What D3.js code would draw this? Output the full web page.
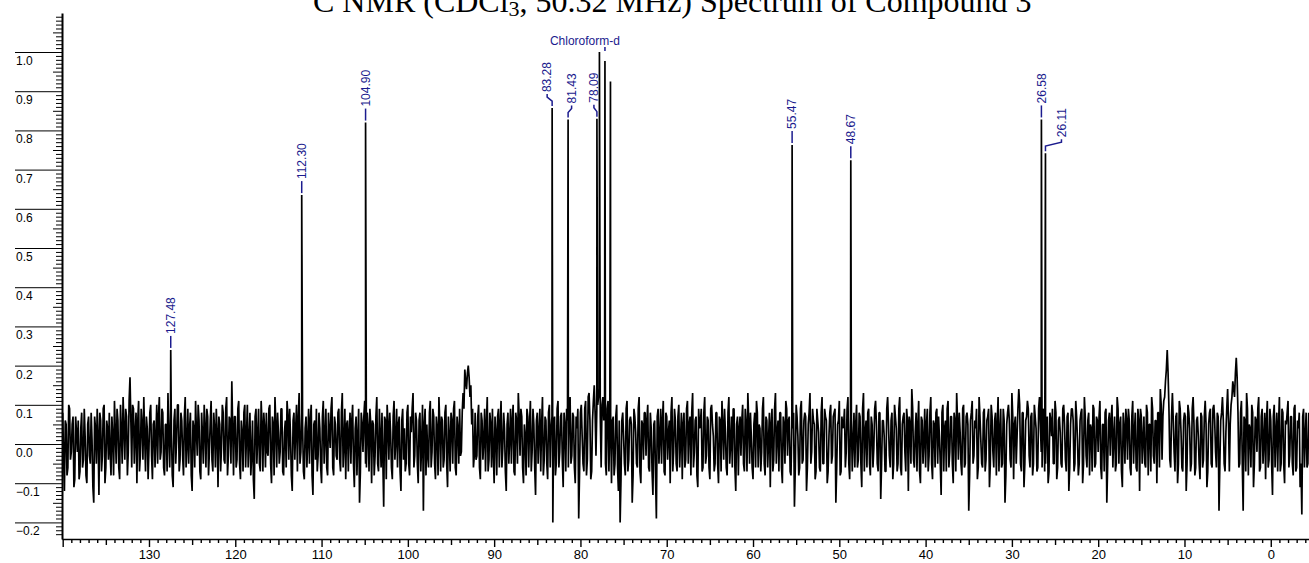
<!DOCTYPE html>
<html>
<head>
<meta charset="utf-8">
<script src="https://cdn.jsdelivr.net/npm/d3@7"></script>
<style>
body { margin: 0; background: #fff; overflow: hidden; }
</style>
</head>
<body>
<div id="chart"></div>
<script>
// data
var peakShifts  = [127.48, 112.30, 104.90, 83.28, 81.43, 78.09, 77.80, 77.16, 76.52, 55.47, 48.67, 26.58, 26.11];
var peakHeights = [0.240, 0.635, 0.820, 0.857, 0.828, 0.830, 1.000, 0.977, 0.925, 0.763, 0.724, 0.828, 0.742];
var peakLabels  = ['127.48', '112.30', '104.90', '83.28', '81.43', '78.09', '', '', '', '55.47', '48.67', '26.58', '26.11'];
var solventLabel = 'Chloroform-d';
var solventShift = 77.16;

// baseline noise, every 0.2 ppm from 140.0 ppm towards 0
var noiseStart = 140.0;
var noiseStep = 0.2;
var noise = [
 0.08,-0.12,0.05,-0.06,0.09,-0.02,0.07,-0.09,0.03,0.06,-0.07,0.08,-0.04,0.02,-0.10,0.07,-0.05,0.01,-0.15,0.04,
 0.09,-0.13,0.06,-0.03,0.10,-0.06,0.04,0.08,-0.08,0.02,0.11,-0.05,0.06,-0.09,0.03,0.12,-0.04,0.07,-0.02,0.17,
 -0.06,0.09,0.03,-0.10,0.11,-0.03,0.05,0.12,-0.07,0.04,-0.01,0.10,-0.09,0.06,0.02,-0.05,0.12,-0.02,0.08,-0.08,
 0.05,0.13,-0.06,0.03,-0.11,0.09,0.01,0.10,-0.04,0.06,-0.08,0.12,0.00,-0.05,0.08,-0.12,0.04,0.11,-0.03,0.06,
 -0.09,0.02,0.10,-0.06,0.07,-0.02,0.11,-0.07,0.04,0.09,-0.11,0.05,-0.01,0.08,-0.05,0.12,-0.03,0.06,0.16,-0.08,
 0.07,-0.04,0.11,-0.09,0.03,0.08,-0.06,0.10,0.01,-0.08,0.06,-0.14,0.09,0.02,-0.05,0.11,-0.07,0.04,0.08,-0.03,
 0.10,-0.10,0.05,0.12,-0.06,0.03,-0.02,0.09,-0.08,0.06,0.11,-0.04,0.02,-0.12,0.08,0.04,-0.07,0.13,-0.02,0.05,
 -0.09,0.07,0.01,-0.05,0.10,-0.13,0.06,0.09,-0.03,0.04,-0.10,0.11,0.02,-0.06,0.08,-0.01,0.12,-0.08,0.05,-0.04,
 0.09,-0.07,0.13,0.00,-0.09,0.06,0.03,-0.05,0.10,-0.11,0.07,0.02,-0.15,0.08,-0.02,0.11,-0.06,0.04,0.09,-0.10,
 0.05,-0.03,0.12,-0.07,0.02,0.08,-0.16,0.06,0.10,-0.04,0.03,-0.09,0.11,0.01,-0.06,0.07,-0.12,0.09,0.04,-0.05,
 0.10,-0.08,0.03,0.13,-0.03,0.06,-0.10,0.08,0.00,-0.17,0.09,0.05,-0.06,0.11,-0.02,0.07,-0.09,0.04,0.12,-0.07,
 0.06,-0.04,0.10,-0.11,0.02,0.08,-0.05,0.11,-0.08,0.04,0.09,-0.02,0.13,0.19,0.14,0.20,0.12,0.05,-0.06,0.08,
 -0.03,0.10,-0.09,0.06,0.01,-0.07,0.12,-0.04,0.05,0.09,-0.10,0.03,0.07,-0.06,0.11,-0.01,0.04,-0.12,0.08,0.02,
 -0.05,0.10,-0.08,0.06,0.13,-0.03,0.07,-0.10,0.02,0.09,-0.06,0.11,-0.02,0.05,-0.13,0.08,0.03,-0.07,0.12,-0.04,
 0.06,-0.09,0.10,0.04,-0.20,0.07,-0.05,0.11,-0.02,0.08,-0.11,0.05,0.09,-0.06,0.12,-0.03,0.07,-0.10,0.04,-0.19,
 0.08,0.02,-0.07,0.11,-0.04,0.13,-0.09,0.06,0.15,-0.03,0.10,0.14,-0.06,0.12,0.09,-0.08,0.11,0.05,-0.10,0.07,
 -0.05,0.10,-0.12,-0.20,0.06,0.02,-0.08,0.11,-0.04,0.07,-0.15,0.09,0.03,-0.06,0.12,-0.10,0.05,0.08,-0.03,0.10,
 -0.07,0.04,-0.13,0.06,-0.19,0.09,0.02,-0.05,0.11,-0.08,0.07,0.03,-0.10,0.12,-0.02,0.06,-0.07,0.10,0.01,-0.09,
 0.08,-0.04,0.11,0.05,-0.08,0.13,-0.02,0.07,-0.11,0.04,0.09,-0.06,0.12,-0.03,0.06,-0.09,0.10,0.02,-0.05,0.08,
 -0.10,0.06,0.11,-0.04,0.03,-0.08,0.12,0.00,-0.06,0.09,-0.12,0.07,0.04,-0.03,0.10,-0.07,0.05,0.13,-0.05,0.02,
 -0.09,0.08,0.11,-0.06,0.04,-0.02,0.12,-0.08,0.06,0.01,-0.11,0.09,-0.04,0.13,0.03,-0.07,0.08,-0.10,0.05,0.11,
 -0.03,0.07,-0.08,0.04,-0.16,0.10,0.02,-0.06,0.11,-0.04,0.08,-0.12,0.05,0.13,-0.02,0.06,-0.09,0.09,0.03,-0.07,
 0.12,-0.05,0.07,-0.10,0.02,0.10,-0.03,0.08,-0.15,0.05,0.11,-0.07,0.04,0.09,-0.02,0.12,-0.09,0.06,0.01,-0.06,
 0.10,-0.04,0.07,-0.11,0.13,0.03,-0.06,0.09,-0.08,0.05,-0.01,0.11,-0.05,0.08,-0.14,0.06,0.02,-0.07,0.12,-0.03,
 0.06,-0.09,0.10,0.04,-0.05,0.12,-0.08,0.07,-0.02,0.09,-0.12,0.05,0.14,-0.04,0.03,-0.07,0.11,-0.10,0.06,0.01,
 -0.06,0.09,-0.03,0.12,-0.09,0.05,0.08,-0.05,0.02,-0.13,0.10,0.04,-0.07,0.11,-0.02,0.07,-0.10,0.06,0.13,-0.04,
 0.03,-0.08,0.10,-0.05,0.08,-0.17,0.06,0.11,-0.03,0.04,-0.09,0.12,0.01,-0.06,0.09,-0.04,0.07,-0.11,0.10,-0.02,
 0.06,-0.08,0.12,0.03,-0.06,0.09,-0.15,0.05,0.10,-0.04,0.13,-0.09,0.07,0.02,0.14,-0.05,0.08,-0.11,0.06,0.11,
 -0.03,0.07,-0.08,0.10,0.04,-0.06,0.12,-0.02,0.09,-0.07,0.05,-0.10,0.08,0.02,-0.05,0.11,-0.09,0.06,0.03,-0.06,
 0.10,-0.04,0.07,-0.12,0.05,0.09,-0.07,0.11,0.01,-0.05,0.08,-0.10,0.12,-0.03,0.06,-0.08,0.04,0.10,-0.06,0.07,
 -0.02,0.11,-0.09,0.05,0.08,-0.15,0.06,-0.03,0.10,0.02,-0.07,0.12,-0.05,0.07,-0.11,0.04,0.09,-0.04,0.06,-0.08,
 0.11,0.03,-0.06,0.09,-0.12,0.07,0.01,-0.05,0.10,-0.08,0.05,0.12,-0.03,0.06,-0.10,0.08,0.14,-0.04,0.11,0.16,
 0.24,0.09,-0.06,0.13,-0.02,0.07,-0.10,0.11,0.03,-0.07,0.08,-0.12,0.10,0.04,-0.05,0.12,-0.08,0.06,0.02,-0.09,
 0.07,-0.04,0.11,-0.11,0.05,0.09,-0.06,0.10,-0.02,0.08,-0.17,0.06,0.12,-0.05,0.03,0.14,-0.07,0.10,0.16,0.12,
 0.22,0.08,-0.05,0.11,-0.17,0.06,0.13,-0.08,0.04,0.10,-0.11,0.07,-0.02,0.12,-0.06,0.09,0.01,-0.09,0.11,-0.04,
 0.06,-0.13,0.10,0.03,-0.07,0.12,-0.05,0.08,-0.10,0.05,0.11,-0.03,0.07,-0.08,0.10,-0.06,0.04,-0.11,-0.18,0.09,
 0.02,-0.06,0.08
];
// the samples in between (0.1 ppm after each of the above)
var noiseMid = [
 -0.03,0.06,-0.08,0.10,-0.04,0.05,-0.11,0.07,-0.02,-0.09,0.04,-0.06,0.09,-0.08,0.05,-0.03,0.08,-0.11,0.07,-0.05,
 0.02,0.08,-0.07,0.09,-0.10,0.06,-0.04,-0.02,0.07,-0.08,0.03,0.09,-0.06,0.10,-0.05,0.04,0.09,-0.08,0.11,0.06,
 0.10,-0.05,0.08,0.06,-0.07,0.09,-0.04,0.02,0.07,-0.09,0.08,-0.03,0.05,-0.06,0.10,0.07,-0.04,0.09,-0.06,0.05,
 -0.07,0.02,0.09,-0.08,0.06,-0.05,0.10,-0.07,0.08,-0.03,0.07,-0.06,0.09,0.04,-0.08,0.06,-0.06,0.03,0.10,-0.07,
 0.08,-0.05,0.04,0.09,-0.08,0.06,-0.04,0.08,-0.06,0.03,0.07,-0.07,0.10,-0.04,0.09,-0.08,0.07,-0.05,0.04,0.07,
 -0.06,0.09,-0.05,0.06,-0.07,0.10,0.02,-0.06,0.08,-0.03,-0.09,0.07,-0.05,0.09,-0.07,0.05,0.08,-0.06,-0.02,0.09,
 -0.05,0.07,-0.08,0.05,0.08,-0.05,0.09,-0.07,0.03,-0.06,0.07,0.09,-0.08,0.06,-0.04,0.10,0.06,-0.05,0.08,-0.07,
 0.04,-0.06,0.09,0.06,-0.08,0.05,-0.04,-0.07,0.08,-0.06,0.07,-0.05,0.09,-0.08,0.03,0.09,-0.06,0.07,-0.03,0.08,
 -0.04,0.08,-0.06,0.09,0.05,-0.07,0.08,0.06,-0.05,0.04,-0.08,0.09,-0.07,0.05,0.07,-0.05,0.08,-0.07,0.05,0.06,
 -0.08,0.07,-0.05,0.09,-0.06,-0.04,0.07,-0.09,0.05,0.08,-0.06,0.07,-0.04,0.09,0.05,-0.07,0.06,-0.04,-0.07,0.08,
 -0.05,0.07,0.09,-0.06,0.08,-0.05,0.06,-0.07,0.10,0.05,-0.08,-0.03,0.08,-0.06,0.09,-0.05,0.07,-0.08,0.05,0.07,
 -0.06,0.08,-0.05,0.07,-0.07,0.06,0.09,-0.06,0.07,-0.05,-0.03,0.08,0.09,0.16,0.18,0.17,0.15,0.09,-0.03,-0.04,
 0.07,-0.06,0.08,-0.04,0.09,0.05,-0.07,0.08,-0.06,-0.02,0.07,-0.08,0.09,0.05,-0.06,0.08,-0.07,0.05,-0.05,0.09,
 0.06,-0.07,0.08,-0.05,0.07,0.09,-0.06,0.05,-0.08,0.07,0.05,-0.07,0.09,-0.06,0.06,-0.05,0.09,0.05,-0.08,0.07,
 -0.05,0.08,-0.06,0.07,0.05,-0.08,0.09,-0.06,0.07,-0.04,0.08,-0.07,0.06,0.09,-0.05,0.08,-0.06,0.07,0.09,-0.07,
 0.10,-0.05,0.09,-0.08,0.12,0.06,-0.07,0.11,0.08,0.09,0.12,0.07,0.10,0.06,-0.05,0.09,-0.07,0.08,0.06,-0.08,
 0.07,-0.06,0.06,-0.09,0.08,-0.05,0.09,-0.07,0.06,0.05,-0.08,0.07,-0.05,0.09,-0.07,0.06,-0.04,0.08,0.06,-0.06,
 0.08,-0.07,0.05,-0.08,0.07,-0.05,0.09,0.06,-0.07,0.08,-0.04,0.06,0.08,-0.07,0.09,-0.05,0.07,-0.06,0.08,0.05,
 -0.06,0.09,-0.05,0.07,0.08,-0.06,0.06,-0.08,0.09,0.05,-0.07,0.08,-0.05,0.07,-0.06,0.09,0.05,-0.07,0.08,-0.05,
 0.07,-0.07,0.05,0.09,-0.06,0.08,-0.05,0.07,0.09,-0.06,0.05,-0.08,0.07,0.06,-0.05,0.09,-0.07,0.06,0.08,-0.06,
 0.05,-0.06,0.08,0.05,-0.07,0.09,-0.05,0.07,-0.06,0.08,0.05,-0.07,0.09,-0.05,0.06,0.08,-0.06,0.07,-0.05,0.09,
 0.06,-0.07,0.05,0.08,-0.06,0.07,-0.08,0.09,-0.05,0.06,0.07,-0.06,0.08,-0.05,0.09,0.05,-0.07,0.06,-0.06,0.08,
 -0.05,0.09,0.06,-0.07,0.08,-0.05,0.07,0.09,-0.06,0.06,-0.08,0.07,0.05,-0.06,0.09,-0.05,0.07,-0.07,0.08,0.05,
 -0.06,0.08,-0.05,0.09,-0.07,0.06,0.08,-0.05,0.07,-0.06,0.09,0.05,-0.07,0.08,-0.05,0.06,-0.07,0.09,0.05,-0.06,
 0.08,-0.05,0.07,-0.07,0.09,-0.06,0.05,0.08,-0.07,0.06,0.07,-0.05,0.09,-0.06,0.08,0.05,-0.07,0.07,-0.05,0.09,
 0.05,-0.07,0.08,-0.05,0.06,-0.06,0.09,0.07,-0.05,0.08,-0.07,0.06,0.09,-0.06,0.07,-0.05,0.08,-0.07,0.06,0.08,
 -0.05,0.09,-0.06,0.07,0.05,-0.08,0.08,-0.05,0.06,0.09,-0.06,0.07,-0.05,0.08,-0.07,0.06,0.09,-0.05,0.07,-0.06,
 0.08,0.05,-0.07,0.09,-0.05,0.06,-0.08,0.08,0.06,-0.06,0.07,0.05,-0.05,0.09,0.10,-0.07,0.08,-0.05,0.07,0.09,
 -0.06,0.08,-0.05,0.07,-0.07,0.09,0.05,-0.06,0.08,-0.05,0.07,-0.07,0.06,0.09,-0.05,0.08,-0.06,0.07,-0.05,0.09,
 0.05,-0.07,0.08,-0.06,0.09,0.06,-0.05,0.07,-0.08,0.06,0.09,-0.05,0.07,-0.06,0.08,0.05,-0.07,0.09,-0.05,0.06,
 0.07,-0.06,0.05,-0.07,0.09,-0.05,0.08,0.06,-0.06,0.07,-0.05,0.09,0.05,-0.07,0.08,-0.05,0.06,0.09,-0.06,0.07,
 -0.05,0.08,-0.07,0.06,0.09,-0.05,0.07,-0.06,0.08,0.05,-0.07,0.09,-0.05,0.06,0.08,-0.06,0.10,0.07,0.12,0.19,
 0.18,-0.04,0.07,0.06,-0.07,0.08,-0.05,0.09,-0.06,0.06,0.07,-0.05,0.08,-0.07,0.09,0.05,-0.06,0.07,-0.05,0.08,
 -0.06,0.07,0.05,-0.07,0.08,-0.05,0.09,0.06,-0.06,0.07,-0.05,0.08,0.06,-0.07,0.09,0.06,0.05,0.12,0.14,0.18,
 0.17,-0.06,0.08,-0.05,0.07,-0.07,0.09,0.05,-0.06,0.08,-0.05,0.06,0.09,-0.07,0.07,-0.05,0.08,0.06,-0.06,0.09,
 -0.05,0.07,-0.06,0.08,0.05,-0.07,0.09,-0.05,0.06,0.08,-0.06,0.07,-0.05,0.09,-0.07,0.06,0.08,-0.05,0.07,-0.06,
 0.08,-0.05
];

var xTickLabels = [130, 120, 110, 100, 90, 80, 70, 60, 50, 40, 30, 20, 10, 0];
var yTickLabels = [-0.2, -0.1, 0.0, 0.1, 0.2, 0.3, 0.4, 0.5, 0.6, 0.7, 0.8, 0.9, 1.0];

// label nudges in px (where the label sits beside its peak)
var labelShift = { '83.28': -5, '81.43': 3.5, '78.09': -3, '26.11': 16 };

init_chart();

function init_chart () {
    var W = 1309, H = 563;
    var margin = { top: 13, right: 0, bottom: 24, left: 62 };
    var width = W - margin.left - margin.right;
    var height = H - margin.top - margin.bottom;
    var blue = '#1b1b8e';

    var root = d3.select('#chart')
        .append('svg')
        .attr('width', W)
        .attr('height', H);

    // title (its top is cut by the page edge, as in the original)
    var title = root.append('text')
        .attr('x', 313)
        .attr('y', 12)
        .style('font-family', 'Liberation Serif, Times New Roman, serif')
        .style('font-size', '32px')
        .attr('fill', '#000');
    title.append('tspan').text('C NMR (CDCl');
    title.append('tspan').attr('dy', 4).style('font-size', '22px').text('3');
    title.append('tspan').attr('dy', -4).text(', 50.32 MHz) Spectrum of Compound 3');
    root.append('text')
        .attr('x', 312)
        .attr('y', 0)
        .attr('text-anchor', 'end')
        .style('font-family', 'Liberation Serif, Times New Roman, serif')
        .style('font-size', '20px')
        .text('13');

    var svg = root.append('g')
        .attr('transform', 'translate(' + margin.left + ',' + margin.top + ')');

    // scales
    var x = d3.scaleLinear().domain([140.08, -4.43]).range([0, width]);
    var y = d3.scaleLinear().domain([-0.2423, 1.0995]).range([height, 0]);

    // x axis: 1 ppm minor, 5 ppm medium, 10 ppm labelled
    var xMinor = d3.range(-4, 141);
    var x_axis = d3.axisBottom(x)
        .tickValues(xMinor)
        .tickSizeOuter(0)
        .tickFormat(function (d) { return xTickLabels.indexOf(d) >= 0 ? d : ''; });
    var gx = svg.append('g')
        .attr('class', 'x axis')
        .attr('transform', 'translate(0,' + height + ')')
        .call(x_axis);
    gx.select('.domain').attr('stroke', '#000').attr('stroke-width', 1.6);
    gx.selectAll('.tick line')
        .attr('stroke-width', 1.4)
        .attr('y2', function (d) { return d % 10 === 0 ? 8 : (d % 5 === 0 ? 6 : 4); });
    gx.selectAll('.tick text')
        .attr('y', 11)
        .style('font-family', 'Liberation Sans, Arial, sans-serif')
        .style('font-size', '13px')
        .attr('fill', '#000');

    // y axis: 0.01 minor, 0.05 medium, 0.1 long rule with label underneath
    var yMinor = d3.range(-23, 110).map(function (d) { return d / 100; });
    var y_axis = d3.axisLeft(y)
        .tickValues(yMinor)
        .tickSizeOuter(0)
        .tickFormat('');
    var gy = svg.append('g')
        .attr('class', 'y axis')
        .call(y_axis);
    gy.select('.domain').attr('stroke', '#000').attr('stroke-width', 2);
    gy.selectAll('.tick line')
        .attr('stroke-width', 1)
        .attr('x2', function (d) {
            var k = Math.round(d * 100);
            return k % 10 === 0 ? -47 : (k % 5 === 0 ? -9 : -6);
        });

    svg.selectAll('.ylab')
        .data(yTickLabels)
        .enter()
        .append('text')
        .attr('class', 'ylab')
        .attr('x', -46)
        .attr('y', function (d) { return y(d) + 13; })
        .style('font-family', 'Liberation Sans, Arial, sans-serif')
        .style('font-size', '12px')
        .attr('fill', '#000')
        .text(function (d) { return d3.format('.1f')(d); });

    // spectrum: noise samples plus the peak maxima, in ppm order
    var points = [];
    noise.forEach(function (v, i) {
        points.push({ ppm: noiseStart - i * noiseStep, v: v });
    });
    noiseMid.forEach(function (v, i) {
        points.push({ ppm: noiseStart - (i + 0.5) * noiseStep, v: v });
    });
    peakShifts.forEach(function (p, i) {
        points.push({ ppm: p, v: peakHeights[i] });
    });
    points.sort(function (a, b) { return b.ppm - a.ppm; });

    var line = d3.line()
        .x(function (d) { return x(d.ppm); })
        .y(function (d) { return y(d.v); });

    svg.append('path')
        .datum(points)
        .attr('d', line)
        .attr('fill', 'none')
        .attr('stroke', '#000')
        .attr('stroke-width', 1.7)
        .attr('stroke-linejoin', 'bevel');

    // peak labels
    var labelled = [];
    peakShifts.forEach(function (p, i) {
        if (peakLabels[i]) labelled.push({ ppm: p, h: peakHeights[i], text: peakLabels[i] });
    });

    var labs = svg.selectAll('.plab')
        .data(labelled)
        .enter()
        .append('g')
        .attr('class', 'plab');

    labs.append('path')
        .attr('fill', 'none')
        .attr('stroke', blue)
        .attr('stroke-width', 1.5)
        .attr('d', function (d) {
            var px = x(d.ppm), py = y(d.h);
            var lx = px + (labelShift[d.text] || 0);
            var ty = py - 16;
            return 'M' + lx + ',' + (ty + 2) + 'L' + lx + ',' + (ty + 5) +
                'L' + px + ',' + (ty + 9) + 'L' + px + ',' + (py - 2);
        });

    labs.append('text')
        .attr('transform', function (d) {
            var lx = x(d.ppm) + (labelShift[d.text] || 0);
            return 'translate(' + lx + ',' + (y(d.h) - 16) + ') rotate(-90)';
        })
        .attr('dy', '0.36em')
        .style('font-family', 'Liberation Sans, Arial, sans-serif')
        .style('font-size', '12px')
        .attr('fill', blue)
        .text(function (d) { return d.text; });

    // solvent label over the CDCl3 triplet
    var top = y(d3.max(peakHeights));
    svg.append('text')
        .attr('x', x(solventShift) - 20)
        .attr('y', top - 7)
        .attr('text-anchor', 'middle')
        .style('font-family', 'Liberation Sans, Arial, sans-serif')
        .style('font-size', '12px')
        .attr('fill', blue)
        .text(solventLabel);
    svg.append('line')
        .attr('x1', x(solventShift)).attr('x2', x(solventShift))
        .attr('y1', top - 5).attr('y2', top - 1)
        .attr('stroke', blue)
        .attr('stroke-width', 1.5);
}
</script>
</body>
</html>
